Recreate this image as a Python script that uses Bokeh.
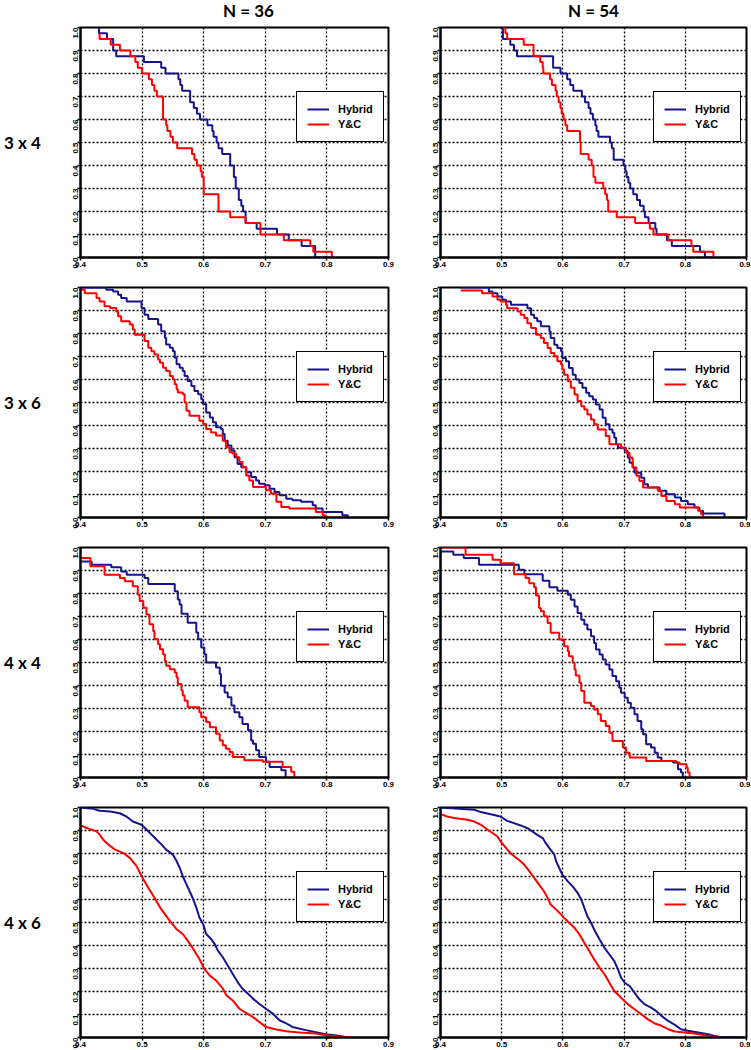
import math
from bokeh.plotting import figure
from bokeh.layouts import row, column
from bokeh.models import Range1d, FixedTicker, Legend, LegendItem, PrintfTickFormatter
from bokeh.core.properties import value
from bokeh.embed import file_html
from bokeh.resources import INLINE

# ---------------- data ----------------
col_labels = ["N = 36", "N = 54"]
row_labels = ["3 x 4", "3 x 6", "4 x 4", "4 x 6"]
series_names = ["Hybrid", "Y&C"]
x_ticks = [0.4, 0.5, 0.6, 0.7, 0.8, 0.9]
x_tick_labels = ["0.4", "0.5", "0.6", "0.7", "0.8", "0.9"]
y_ticks = [0.0, 0.1, 0.2, 0.3, 0.4, 0.5, 0.6, 0.7, 0.8, 0.9, 1.0]
y_tick_labels = ["0.0", "0.1", "0.2", "0.3", "0.4", "0.5", "0.6", "0.7", "0.8", "0.9", "1.0"]

# 3 x 4, N = 36
hyb_3x4_36_x = [0.430, 0.430, 0.443, 0.453, 0.458, 0.503, 0.531, 0.538, 0.559, 0.562, 0.565, 0.578, 0.584, 0.589, 0.594, 0.606, 0.614, 0.616, 0.621, 0.624, 0.630, 0.643, 0.649, 0.652, 0.657, 0.661, 0.664, 0.668, 0.686, 0.719, 0.738, 0.759, 0.781, 0.808]
hyb_3x4_36_y = [1.000, 0.975, 0.950, 0.900, 0.875, 0.850, 0.825, 0.800, 0.775, 0.750, 0.725, 0.675, 0.650, 0.625, 0.600, 0.575, 0.550, 0.525, 0.500, 0.475, 0.450, 0.400, 0.350, 0.300, 0.250, 0.225, 0.200, 0.150, 0.125, 0.100, 0.075, 0.050, 0.000, 0.000]
yc_3x4_36_x = [0.431, 0.431, 0.449, 0.464, 0.481, 0.489, 0.493, 0.500, 0.511, 0.516, 0.520, 0.524, 0.534, 0.539, 0.541, 0.546, 0.550, 0.557, 0.581, 0.585, 0.589, 0.595, 0.597, 0.600, 0.624, 0.643, 0.668, 0.692, 0.730, 0.773, 0.778, 0.808, 0.808]
yc_3x4_36_y = [0.975, 0.950, 0.925, 0.900, 0.875, 0.850, 0.825, 0.800, 0.775, 0.750, 0.725, 0.700, 0.600, 0.575, 0.550, 0.525, 0.500, 0.475, 0.450, 0.425, 0.400, 0.375, 0.350, 0.275, 0.200, 0.175, 0.150, 0.100, 0.075, 0.050, 0.025, 0.000, 0.000]

# 3 x 4, N = 54
hyb_3x4_54_x = [0.502, 0.502, 0.514, 0.520, 0.525, 0.584, 0.596, 0.607, 0.612, 0.617, 0.631, 0.636, 0.642, 0.645, 0.649, 0.653, 0.655, 0.658, 0.677, 0.680, 0.683, 0.699, 0.702, 0.704, 0.707, 0.710, 0.715, 0.721, 0.726, 0.732, 0.734, 0.740, 0.751, 0.753, 0.770, 0.778, 0.824, 0.832, 0.846]
hyb_3x4_54_y = [1.000, 0.950, 0.925, 0.900, 0.875, 0.825, 0.800, 0.775, 0.750, 0.725, 0.700, 0.675, 0.650, 0.625, 0.600, 0.575, 0.550, 0.525, 0.500, 0.475, 0.425, 0.400, 0.375, 0.350, 0.325, 0.300, 0.275, 0.250, 0.225, 0.200, 0.175, 0.150, 0.125, 0.100, 0.075, 0.050, 0.025, 0.000, 0.000]
yc_3x4_54_x = [0.502, 0.506, 0.509, 0.536, 0.552, 0.563, 0.567, 0.568, 0.579, 0.582, 0.588, 0.590, 0.593, 0.596, 0.598, 0.601, 0.604, 0.607, 0.628, 0.629, 0.642, 0.647, 0.650, 0.653, 0.666, 0.669, 0.672, 0.674, 0.688, 0.718, 0.742, 0.748, 0.772, 0.810, 0.813, 0.846, 0.846]
yc_3x4_54_y = [1.000, 0.975, 0.950, 0.925, 0.875, 0.850, 0.825, 0.800, 0.775, 0.750, 0.725, 0.700, 0.675, 0.650, 0.625, 0.600, 0.575, 0.550, 0.500, 0.450, 0.425, 0.400, 0.350, 0.325, 0.300, 0.275, 0.250, 0.200, 0.175, 0.150, 0.125, 0.100, 0.075, 0.050, 0.025, 0.000, 0.000]

# 3 x 6, N = 36
hyb_3x6_36_x = [0.400, 0.442, 0.453, 0.461, 0.466, 0.475, 0.499, 0.504, 0.510, 0.526, 0.531, 0.537, 0.539, 0.545, 0.550, 0.553, 0.556, 0.561, 0.566, 0.569, 0.574, 0.580, 0.585, 0.591, 0.596, 0.599, 0.604, 0.610, 0.615, 0.620, 0.628, 0.631, 0.634, 0.639, 0.645, 0.650, 0.655, 0.661, 0.669, 0.677, 0.685, 0.690, 0.699, 0.707, 0.715, 0.723, 0.734, 0.744, 0.758, 0.777, 0.782, 0.793, 0.825, 0.834]
hyb_3x6_36_y = [1.000, 0.990, 0.983, 0.968, 0.954, 0.939, 0.911, 0.882, 0.863, 0.839, 0.810, 0.781, 0.752, 0.738, 0.723, 0.695, 0.666, 0.651, 0.637, 0.615, 0.594, 0.572, 0.550, 0.536, 0.514, 0.493, 0.457, 0.435, 0.414, 0.392, 0.385, 0.363, 0.334, 0.313, 0.291, 0.262, 0.233, 0.219, 0.197, 0.176, 0.161, 0.147, 0.140, 0.125, 0.111, 0.097, 0.082, 0.075, 0.068, 0.053, 0.039, 0.024, 0.010, 0.000]
yc_3x6_36_x = [0.400, 0.407, 0.426, 0.431, 0.439, 0.448, 0.458, 0.461, 0.466, 0.480, 0.485, 0.488, 0.504, 0.510, 0.515, 0.520, 0.526, 0.529, 0.534, 0.539, 0.545, 0.550, 0.553, 0.556, 0.558, 0.566, 0.569, 0.572, 0.577, 0.593, 0.599, 0.604, 0.612, 0.620, 0.631, 0.636, 0.642, 0.647, 0.653, 0.658, 0.663, 0.669, 0.674, 0.680, 0.701, 0.709, 0.718, 0.726, 0.739, 0.782, 0.793, 0.798, 0.831]
yc_3x6_36_y = [0.990, 0.975, 0.954, 0.939, 0.918, 0.911, 0.896, 0.875, 0.853, 0.839, 0.817, 0.795, 0.767, 0.738, 0.723, 0.709, 0.687, 0.673, 0.651, 0.637, 0.615, 0.601, 0.579, 0.558, 0.543, 0.536, 0.500, 0.464, 0.442, 0.421, 0.406, 0.385, 0.370, 0.356, 0.334, 0.305, 0.284, 0.277, 0.262, 0.241, 0.219, 0.183, 0.161, 0.133, 0.118, 0.104, 0.068, 0.046, 0.039, 0.024, 0.010, 0.000, 0.000]

# 3 x 6, N = 54
hyb_3x6_54_x = [0.433, 0.479, 0.485, 0.493, 0.501, 0.507, 0.515, 0.542, 0.548, 0.553, 0.558, 0.564, 0.578, 0.580, 0.586, 0.591, 0.597, 0.599, 0.605, 0.610, 0.616, 0.621, 0.627, 0.632, 0.638, 0.643, 0.649, 0.654, 0.660, 0.665, 0.670, 0.676, 0.681, 0.684, 0.687, 0.690, 0.701, 0.706, 0.709, 0.714, 0.717, 0.728, 0.733, 0.739, 0.758, 0.769, 0.783, 0.793, 0.804, 0.815, 0.823, 0.829, 0.864]
hyb_3x6_54_y = [1.000, 0.983, 0.975, 0.961, 0.947, 0.939, 0.925, 0.910, 0.881, 0.867, 0.853, 0.831, 0.809, 0.780, 0.751, 0.737, 0.723, 0.694, 0.679, 0.650, 0.621, 0.600, 0.585, 0.564, 0.542, 0.527, 0.513, 0.491, 0.470, 0.434, 0.405, 0.383, 0.368, 0.347, 0.318, 0.303, 0.289, 0.260, 0.238, 0.217, 0.195, 0.173, 0.145, 0.130, 0.116, 0.101, 0.087, 0.072, 0.058, 0.043, 0.029, 0.017, 0.000]
yc_3x6_54_x = [0.433, 0.468, 0.485, 0.493, 0.498, 0.507, 0.509, 0.526, 0.531, 0.537, 0.542, 0.548, 0.556, 0.564, 0.569, 0.575, 0.580, 0.586, 0.591, 0.597, 0.599, 0.602, 0.608, 0.613, 0.619, 0.624, 0.630, 0.635, 0.640, 0.646, 0.651, 0.657, 0.670, 0.676, 0.695, 0.703, 0.709, 0.714, 0.720, 0.725, 0.731, 0.755, 0.761, 0.769, 0.783, 0.791, 0.821, 0.826, 0.829, 0.843]
yc_3x6_54_y = [0.987, 0.975, 0.961, 0.947, 0.939, 0.925, 0.910, 0.896, 0.881, 0.867, 0.845, 0.824, 0.795, 0.780, 0.759, 0.737, 0.715, 0.701, 0.679, 0.665, 0.643, 0.621, 0.592, 0.564, 0.535, 0.506, 0.484, 0.470, 0.448, 0.426, 0.405, 0.383, 0.354, 0.318, 0.303, 0.282, 0.260, 0.217, 0.181, 0.159, 0.130, 0.116, 0.094, 0.072, 0.058, 0.043, 0.029, 0.014, 0.000, 0.000]

# 4 x 4, N = 36
hyb_4x4_36_x = [0.400, 0.418, 0.450, 0.466, 0.475, 0.504, 0.510, 0.553, 0.558, 0.561, 0.564, 0.574, 0.588, 0.591, 0.596, 0.601, 0.604, 0.620, 0.626, 0.628, 0.634, 0.639, 0.645, 0.650, 0.658, 0.663, 0.672, 0.677, 0.680, 0.685, 0.690, 0.701, 0.707, 0.726, 0.733]
hyb_4x4_36_y = [0.939, 0.925, 0.914, 0.896, 0.882, 0.867, 0.841, 0.810, 0.774, 0.752, 0.712, 0.673, 0.630, 0.601, 0.565, 0.536, 0.500, 0.478, 0.450, 0.399, 0.370, 0.349, 0.313, 0.284, 0.262, 0.233, 0.205, 0.161, 0.147, 0.118, 0.089, 0.068, 0.046, 0.032, 0.000]
yc_4x4_36_x = [0.400, 0.416, 0.439, 0.464, 0.472, 0.485, 0.493, 0.496, 0.502, 0.507, 0.512, 0.518, 0.520, 0.526, 0.529, 0.534, 0.537, 0.539, 0.545, 0.553, 0.556, 0.558, 0.564, 0.566, 0.569, 0.574, 0.593, 0.596, 0.604, 0.610, 0.620, 0.626, 0.631, 0.636, 0.642, 0.647, 0.666, 0.696, 0.728, 0.742, 0.747]
yc_4x4_36_y = [0.954, 0.918, 0.882, 0.867, 0.853, 0.831, 0.795, 0.767, 0.738, 0.709, 0.666, 0.637, 0.601, 0.579, 0.558, 0.536, 0.507, 0.486, 0.471, 0.457, 0.435, 0.406, 0.378, 0.357, 0.334, 0.305, 0.284, 0.262, 0.241, 0.219, 0.190, 0.161, 0.140, 0.125, 0.111, 0.089, 0.075, 0.068, 0.046, 0.025, 0.000]

# 4 x 4, N = 54
hyb_4x4_54_x = [0.400, 0.421, 0.438, 0.463, 0.528, 0.537, 0.567, 0.578, 0.591, 0.608, 0.613, 0.619, 0.624, 0.630, 0.635, 0.640, 0.646, 0.651, 0.654, 0.660, 0.665, 0.670, 0.676, 0.681, 0.687, 0.692, 0.695, 0.701, 0.706, 0.711, 0.717, 0.722, 0.728, 0.731, 0.736, 0.744, 0.750, 0.755, 0.761, 0.780, 0.788, 0.793, 0.796]
hyb_4x4_54_y = [0.983, 0.968, 0.954, 0.925, 0.903, 0.884, 0.855, 0.827, 0.812, 0.795, 0.773, 0.744, 0.715, 0.686, 0.665, 0.643, 0.614, 0.585, 0.556, 0.535, 0.513, 0.491, 0.470, 0.441, 0.419, 0.390, 0.368, 0.347, 0.325, 0.303, 0.275, 0.246, 0.210, 0.188, 0.145, 0.130, 0.108, 0.087, 0.072, 0.065, 0.036, 0.022, 0.000]
yc_4x4_54_x = [0.400, 0.441, 0.485, 0.498, 0.520, 0.539, 0.545, 0.553, 0.556, 0.561, 0.564, 0.569, 0.575, 0.580, 0.594, 0.602, 0.608, 0.610, 0.616, 0.619, 0.621, 0.627, 0.630, 0.635, 0.646, 0.651, 0.657, 0.662, 0.670, 0.676, 0.681, 0.698, 0.703, 0.709, 0.736, 0.785, 0.791, 0.802, 0.804, 0.807]
yc_4x4_54_y = [1.000, 0.968, 0.947, 0.932, 0.884, 0.867, 0.845, 0.827, 0.791, 0.737, 0.723, 0.701, 0.672, 0.629, 0.600, 0.571, 0.549, 0.527, 0.499, 0.470, 0.444, 0.412, 0.376, 0.325, 0.311, 0.296, 0.275, 0.246, 0.224, 0.195, 0.159, 0.130, 0.108, 0.087, 0.072, 0.065, 0.058, 0.043, 0.022, 0.000]

# 4 x 6, N = 36
hyb_4x6_36_x = [0.400, 0.421, 0.431, 0.448, 0.464, 0.475, 0.485, 0.499, 0.507, 0.518, 0.529, 0.539, 0.550, 0.556, 0.561, 0.566, 0.572, 0.577, 0.583, 0.588, 0.593, 0.599, 0.604, 0.612, 0.618, 0.623, 0.631, 0.639, 0.647, 0.655, 0.663, 0.672, 0.680, 0.690, 0.701, 0.712, 0.723, 0.734, 0.744, 0.766, 0.788, 0.798, 0.815, 0.836]
hyb_4x6_36_y = [1.000, 0.994, 0.986, 0.983, 0.975, 0.960, 0.939, 0.925, 0.904, 0.875, 0.846, 0.817, 0.795, 0.767, 0.738, 0.702, 0.666, 0.637, 0.601, 0.565, 0.522, 0.493, 0.450, 0.428, 0.406, 0.378, 0.349, 0.313, 0.277, 0.241, 0.212, 0.190, 0.169, 0.147, 0.125, 0.104, 0.075, 0.061, 0.046, 0.032, 0.020, 0.014, 0.009, 0.000]
yc_4x6_36_x = [0.400, 0.410, 0.426, 0.431, 0.437, 0.445, 0.456, 0.469, 0.480, 0.491, 0.499, 0.510, 0.520, 0.531, 0.545, 0.556, 0.566, 0.574, 0.583, 0.593, 0.601, 0.610, 0.620, 0.631, 0.637, 0.647, 0.658, 0.666, 0.680, 0.690, 0.701, 0.718, 0.734, 0.755, 0.782, 0.798, 0.820, 0.842]
yc_4x6_36_y = [0.922, 0.911, 0.896, 0.882, 0.860, 0.839, 0.817, 0.803, 0.781, 0.745, 0.702, 0.651, 0.608, 0.558, 0.507, 0.471, 0.450, 0.421, 0.385, 0.341, 0.298, 0.269, 0.248, 0.212, 0.183, 0.161, 0.125, 0.111, 0.089, 0.068, 0.046, 0.035, 0.027, 0.022, 0.017, 0.010, 0.003, 0.000]

# 4 x 6, N = 54
hyb_4x6_54_x = [0.400, 0.455, 0.466, 0.482, 0.498, 0.509, 0.520, 0.531, 0.542, 0.550, 0.558, 0.567, 0.572, 0.580, 0.586, 0.589, 0.594, 0.599, 0.608, 0.616, 0.624, 0.630, 0.635, 0.640, 0.646, 0.651, 0.660, 0.668, 0.676, 0.684, 0.690, 0.695, 0.701, 0.709, 0.717, 0.725, 0.733, 0.744, 0.752, 0.761, 0.772, 0.783, 0.793, 0.804, 0.821, 0.837, 0.848, 0.856, 0.897]
hyb_4x6_54_y = [1.000, 0.990, 0.980, 0.971, 0.961, 0.942, 0.932, 0.922, 0.910, 0.896, 0.881, 0.867, 0.845, 0.816, 0.795, 0.766, 0.737, 0.708, 0.679, 0.657, 0.629, 0.600, 0.564, 0.527, 0.499, 0.470, 0.426, 0.390, 0.361, 0.332, 0.296, 0.260, 0.238, 0.224, 0.195, 0.166, 0.145, 0.130, 0.116, 0.094, 0.072, 0.055, 0.036, 0.029, 0.022, 0.014, 0.007, 0.003, 0.000]
yc_4x6_54_x = [0.400, 0.411, 0.422, 0.444, 0.455, 0.466, 0.477, 0.485, 0.493, 0.498, 0.507, 0.517, 0.528, 0.537, 0.545, 0.553, 0.561, 0.569, 0.575, 0.580, 0.589, 0.597, 0.602, 0.610, 0.619, 0.627, 0.635, 0.643, 0.651, 0.660, 0.668, 0.676, 0.684, 0.695, 0.706, 0.717, 0.728, 0.739, 0.750, 0.761, 0.772, 0.783, 0.799, 0.815, 0.832, 0.843, 0.848, 0.859]
yc_4x6_54_y = [0.971, 0.961, 0.954, 0.947, 0.939, 0.925, 0.903, 0.889, 0.874, 0.853, 0.824, 0.795, 0.773, 0.751, 0.723, 0.694, 0.665, 0.636, 0.607, 0.578, 0.556, 0.535, 0.520, 0.499, 0.477, 0.448, 0.412, 0.376, 0.340, 0.303, 0.275, 0.238, 0.202, 0.173, 0.145, 0.123, 0.101, 0.079, 0.061, 0.051, 0.036, 0.026, 0.022, 0.017, 0.010, 0.003, 0.000, 0.000]

panels = [
    [(hyb_3x4_36_x, hyb_3x4_36_y, yc_3x4_36_x, yc_3x4_36_y), (hyb_3x4_54_x, hyb_3x4_54_y, yc_3x4_54_x, yc_3x4_54_y)],
    [(hyb_3x6_36_x, hyb_3x6_36_y, yc_3x6_36_x, yc_3x6_36_y), (hyb_3x6_54_x, hyb_3x6_54_y, yc_3x6_54_x, yc_3x6_54_y)],
    [(hyb_4x4_36_x, hyb_4x4_36_y, yc_4x4_36_x, yc_4x4_36_y), (hyb_4x4_54_x, hyb_4x4_54_y, yc_4x4_54_x, yc_4x4_54_y)],
    [(hyb_4x6_36_x, hyb_4x6_36_y, yc_4x6_36_x, yc_4x6_36_y), (hyb_4x6_54_x, hyb_4x6_54_y, yc_4x6_54_x, yc_4x6_54_y)],
]
smooth_rows = [False, False, False, True]

# ---------------- layout constants ----------------
BLUE = "#14148C"
RED = "#FF0000"
FRAME_WS = [308, 306]
FRAME_H = 230
BORDER_L = 16
BORDER_TOP = 7
BORDER_BOTTOM = 23
BORDER_BOTTOM_LAST = 12
RIGHT_BORDERS = [36, 4]
LEGEND_LOCS = [(216, 115), (213, 115)]
HEADER_H = 20
LABEL_W = 64
TOTAL_W = LABEL_W + sum(BORDER_L + fw + rb for fw, rb in zip(FRAME_WS, RIGHT_BORDERS))
ROW_HEIGHTS = [BORDER_TOP + FRAME_H + (BORDER_BOTTOM_LAST if i == 3 else BORDER_BOTTOM) for i in range(4)]
TICK_FONT = "Liberation Sans"


def make_panel(hx, hy, rx, ry, col, rowi, smooth):
    rb = RIGHT_BORDERS[col]
    fw = FRAME_WS[col]
    bb = BORDER_BOTTOM_LAST if rowi == 3 else BORDER_BOTTOM
    p = figure(width=BORDER_L + fw + rb, height=BORDER_TOP + FRAME_H + bb,
               x_range=Range1d(0.4, 0.9), y_range=Range1d(0.0, 1.0),
               output_backend="svg", toolbar_location=None,
               min_border_left=BORDER_L, min_border_right=rb,
               min_border_top=BORDER_TOP, min_border_bottom=bb)
    p.outline_line_color = "black"
    p.outline_line_width = 2
    p.outline_line_alpha = 1.0
    p.background_fill_color = "white"
    p.border_fill_color = "white"

    for ax, ticks, labels in ((p.xaxis[0], x_ticks, x_tick_labels), (p.yaxis[0], y_ticks, y_tick_labels)):
        ax.ticker = FixedTicker(ticks=ticks)
        ax.formatter = PrintfTickFormatter(format="%.1f")
        ax.major_label_overrides = {t: l for t, l in zip(ticks, labels)}
        ax.axis_line_color = "black"
        ax.axis_line_width = 2
        ax.major_tick_line_color = "black"
        ax.major_tick_line_width = 1.5
        ax.major_tick_out = 3
        ax.major_tick_in = 0
        ax.minor_tick_line_color = None
        ax.major_label_text_font = TICK_FONT
        ax.major_label_text_font_style = "bold"
        ax.major_label_text_font_size = "8px"
        ax.major_label_text_color = "black"
        ax.major_label_standoff = 1
    p.yaxis[0].major_label_orientation = math.pi / 2
    p.yaxis[0].major_label_standoff = 2

    p.xgrid[0].ticker = FixedTicker(ticks=x_ticks)
    p.ygrid[0].ticker = FixedTicker(ticks=y_ticks)
    for g in (p.xgrid[0], p.ygrid[0]):
        g.grid_line_color = "black"
        g.grid_line_width = 1.3
        g.grid_line_dash = "2 2"
        g.grid_line_alpha = 1.0

    if smooth:
        r1 = p.line(hx, hy, line_color=BLUE, line_width=2)
        r2 = p.line(rx, ry, line_color=RED, line_width=2)
    else:
        r1 = p.step(hx, hy, mode="after", line_color=BLUE, line_width=2)
        r2 = p.step(rx, ry, mode="after", line_color=RED, line_width=2)

    legend = Legend(items=[LegendItem(label=series_names[0], renderers=[r1]),
                           LegendItem(label=series_names[1], renderers=[r2])],
                    location=LEGEND_LOCS[col])
    legend.label_text_font = TICK_FONT
    legend.label_text_font_style = "bold"
    legend.label_text_font_size = "11px"
    legend.label_text_color = "black"
    legend.glyph_width = 22
    legend.glyph_height = 14
    legend.label_height = 14
    legend.label_standoff = 9
    legend.padding = 10
    legend.spacing = 1
    legend.margin = 0
    legend.border_line_color = "black"
    legend.border_line_width = 1.5
    legend.border_line_alpha = 1.0
    legend.background_fill_color = "white"
    legend.background_fill_alpha = 1.0
    p.add_layout(legend)
    return p


# header with column titles
header = figure(width=TOTAL_W, height=HEADER_H, x_range=Range1d(0, TOTAL_W), y_range=Range1d(HEADER_H, 0),
                output_backend="svg", toolbar_location=None, x_axis_type=None, y_axis_type=None, min_border=0)
header.outline_line_color = None
col1_center = LABEL_W + BORDER_L + FRAME_WS[0] / 2
col2_center = LABEL_W + BORDER_L + FRAME_WS[0] + RIGHT_BORDERS[0] + BORDER_L + FRAME_WS[1] / 2
header.text(x=[col1_center + 14, col2_center], y=[HEADER_H / 2] * 2, text=col_labels,
            text_align="center", text_baseline="middle",
            text_font=value("Lato"), text_font_style="bold", text_font_size="17px", text_color="black")

# left column with row titles
grid_h = sum(ROW_HEIGHTS)
labels_fig = figure(width=LABEL_W, height=grid_h, x_range=Range1d(0, LABEL_W), y_range=Range1d(grid_h, 0),
                    output_backend="svg", toolbar_location=None, x_axis_type=None, y_axis_type=None, min_border=0)
labels_fig.outline_line_color = None
row_centers = [sum(ROW_HEIGHTS[:i]) + BORDER_TOP + FRAME_H / 2 for i in range(4)]
labels_fig.text(x=[22] * 4, y=row_centers, text=row_labels, text_align="center", text_baseline="middle",
                text_font=value("Lato"), text_font_style="bold", text_font_size="17px", text_color="black")

rows = []
for i, prow in enumerate(panels):
    figs = [make_panel(*prow[c], col=c, rowi=i, smooth=smooth_rows[i]) for c in range(2)]
    rows.append(row(*figs))

layout = column(header, row(labels_fig, column(*rows)))

with open("out.html", "w") as f:
    f.write(file_html(layout, INLINE))
